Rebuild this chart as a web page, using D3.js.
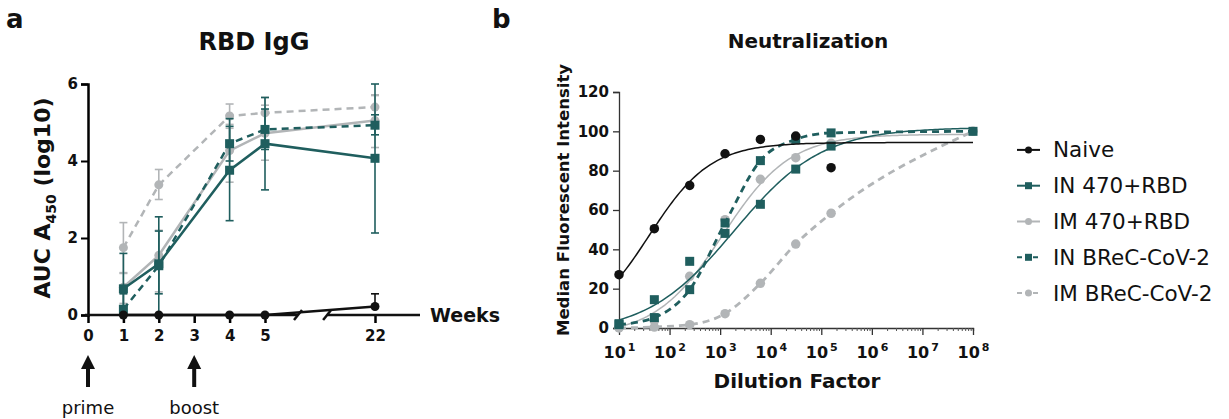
<!DOCTYPE html>
<html>
<head>
<meta charset="utf-8">
<title>RBD IgG / Neutralization</title>
<script src="https://cdn.jsdelivr.net/npm/d3@7"></script>
<style>
  body { margin: 0; background: #fff; }
  text { font-family: "DejaVu Sans", "Liberation Sans", sans-serif; fill: #111; }
</style>
</head>
<body>
<script>
// ---- data: panel a (RBD IgG, AUC log10) ----
var weeks = [1, 2, 4, 5, 22];
var weekTicks = [0, 1, 2, 3, 4, 5, 22];
var naiveIgG = [0, 0, 0, 0, 0.22],        naiveLo = [0, 0, 0, 0, 0.22],       naiveHi = [0, 0, 0, 0, 0.55];
var in470IgG = [0.68, 1.33, 3.76, 4.45, 4.07], in470Lo = [0, 0, 2.45, 3.25, 2.13], in470Hi = [1.6, 2.55, 5.1, 5.65, 6.0];
var im470IgG = [0.72, 1.55, 4.27, 4.72, 5.05], im470Lo = [0.3, 0.6, 3.45, 4.02, 4.35], im470Hi = [1.1, 2.2, 4.95, 5.45, 5.72];
var inBrecIgG = [0.15, 1.28, 4.45, 4.82, 4.93], inBrecLo = [0, 0.55, 4.0, 4.3, 4.68], inBrecHi = [0.55, 2.18, 4.9, 5.35, 5.2];
var imBrecIgG = [1.75, 3.38, 5.17, 5.25, 5.4], imBrecLo = [1.08, 3.0, 4.85, 4.85, 5.05], imBrecHi = [2.4, 3.78, 5.48, 5.65, 5.7];
var igTicks = [0, 2, 4, 6];

// ---- data: panel b (neutralization, MFI) ----
var dilutions = [10, 50, 250, 1250, 6250, 31250, 156250];
var dilutionsExt = [10, 50, 250, 1250, 6250, 31250, 156250, 1e8];
var naiveMFI = [27.1, 50.5, 72.5, 88.6, 95.9, 97.6, 81.5];
var in470MFI = [2.2, 14.4, 33.9, 48.1, 62.9, 80.8, 92.5];
var im470MFI = [0.5, 3.6, 26.3, 55.1, 75.6, 86.6, 93.9];
var inBrecMFI = [1.7, 5.3, 19.5, 53.4, 85.1, 95.9, 99.2, 100];
var imBrecMFI = [0, 0.5, 1.7, 7.3, 22.7, 42.7, 58.3, 100];
// 4PL fit parameters: bottom, top, logEC50, hill
var naiveFit = [0, 94.3, 1.6, 0.72];
var in470Fit = [-3, 102, 3.28, 0.5];
var im470Fit = [-4, 98.5, 3.05, 0.65];
var mfiTicks = [0, 20, 40, 60, 80, 100, 120];
var decades = [1, 2, 3, 4, 5, 6, 7, 8];

var groups = ["Naive", "IN 470+RBD", "IM 470+RBD", "IN BReC-CoV-2", "IM BReC-CoV-2"];

var teal = "#1f5e5e", grey = "#b2b5b7", black = "#111";

var svg = d3.select("body").append("svg")
  .attr("width", 1229).attr("height", 419);

function marker(g, shape, color, cx, cy, size) {
  if (shape == "square") {
    g.append("rect").attr("x", cx - size / 2).attr("y", cy - size / 2)
      .attr("width", size).attr("height", size).attr("fill", color);
  } else {
    g.append("circle").attr("cx", cx).attr("cy", cy).attr("r", size / 2).attr("fill", color);
  }
}

// ================= panel a =================
var xa = d3.scaleLinear().domain([0, 5, 22, 29]).range([88, 265, 375, 420]);
var ya = d3.scaleLinear().domain([0, 6]).range([315, 84]);

var ga = svg.append("g");
ga.append("text").attr("x", 6).attr("y", 28).attr("font-size", 26).attr("font-weight", "bold").text("a");
ga.append("text").attr("x", 254).attr("y", 50).attr("text-anchor", "middle")
  .attr("font-size", 24).attr("font-weight", "bold").text("RBD IgG");

// y axis
var yAxA = ga.append("g").attr("transform", "translate(88,0)")
  .call(d3.axisLeft(ya).tickValues(igTicks).tickFormat(d3.format("d")).tickSize(7).tickPadding(3));
yAxA.select(".domain").attr("stroke-width", 2.5);
yAxA.selectAll(".tick line").attr("stroke-width", 2);
yAxA.selectAll(".tick text").attr("font-size", 15).attr("font-weight", "bold")
  .attr("font-family", "DejaVu Sans").attr("fill", "#111");

// x axis with a break between 5 and 22
var breakL = 10.1, breakR = 14.6;
var xAxA = ga.append("g").attr("transform", "translate(0,315)")
  .call(d3.axisBottom(xa).tickValues(weekTicks).tickSize(8).tickPadding(7).tickSizeOuter(0));
xAxA.select(".domain").remove();
xAxA.selectAll(".tick line").attr("stroke-width", 2.5);
xAxA.selectAll(".tick text").attr("font-size", 15).attr("font-weight", "bold")
  .attr("font-family", "DejaVu Sans").attr("fill", "#111");
ga.append("line").attr("x1", xa(0) - 3).attr("x2", xa(breakL)).attr("y1", 315).attr("y2", 315)
  .attr("stroke", black).attr("stroke-width", 2.5);
ga.append("line").attr("x1", xa(breakR)).attr("x2", xa(29)).attr("y1", 315).attr("y2", 315)
  .attr("stroke", black).attr("stroke-width", 2.5);
[breakL, breakR].forEach(function (b) {
  ga.append("line").attr("x1", xa(b) - 4).attr("x2", xa(b) + 4)
    .attr("y1", 320).attr("y2", 310).attr("stroke", black).attr("stroke-width", 2.5);
});
ga.append("text").attr("x", 430).attr("y", 322).attr("font-size", 19).attr("font-weight", "bold").text("Weeks");

// y label
ga.append("text").attr("transform", "translate(50,198) rotate(-90)").attr("text-anchor", "middle")
  .attr("font-size", 22).attr("font-weight", "bold")
  .call(function (t) {
    t.append("tspan").text("AUC A");
    t.append("tspan").attr("font-size", 14).attr("dy", 6).text("450");
    t.append("tspan").attr("dy", -6).text(" (log10)");
  });

// arrows + labels
[[0, "prime"], [3, "boost"]].forEach(function (a) {
  var x = xa(a[0]);
  ga.append("line").attr("x1", x).attr("x2", x).attr("y1", 387).attr("y2", 366)
    .attr("stroke", black).attr("stroke-width", 4);
  ga.append("path").attr("d", "M" + (x - 7) + ",369L" + x + ",355L" + (x + 7) + ",369Z").attr("fill", black);
  ga.append("text").attr("x", x).attr("y", 414).attr("text-anchor", "middle").attr("font-size", 18).text(a[1]);
});

var seriesA = [
  { v: imBrecIgG, lo: imBrecLo, hi: imBrecHi, color: grey, dash: "7,5", shape: "circle" },
  { v: im470IgG, lo: im470Lo, hi: im470Hi, color: grey, dash: null, shape: "circle" },
  { v: inBrecIgG, lo: inBrecLo, hi: inBrecHi, color: teal, dash: "7,5", shape: "square" },
  { v: in470IgG, lo: in470Lo, hi: in470Hi, color: teal, dash: null, shape: "square" },
  { v: naiveIgG, lo: naiveLo, hi: naiveHi, color: black, dash: null, shape: "circle" }
];
var lineA = d3.line().x(function (d) { return xa(d[0]); }).y(function (d) { return ya(d[1]); });

seriesA.forEach(function (s) {
  var g = ga.append("g");
  weeks.forEach(function (w, i) {
    if (s.hi[i] > s.lo[i]) {
      g.append("line").attr("x1", xa(w)).attr("x2", xa(w)).attr("y1", ya(s.lo[i])).attr("y2", ya(s.hi[i]))
        .attr("stroke", s.color).attr("stroke-width", 1.6);
      [s.lo[i], s.hi[i]].forEach(function (e) {
        if (e > 0) g.append("line").attr("x1", xa(w) - 4).attr("x2", xa(w) + 4).attr("y1", ya(e)).attr("y2", ya(e))
          .attr("stroke", s.color).attr("stroke-width", 1.6);
      });
    }
  });
  var pts = weeks.map(function (w, i) { return [w, s.v[i]]; });
  g.append("path").attr("d", lineA(pts)).attr("fill", "none").attr("stroke", s.color)
    .attr("stroke-width", 2.5).attr("stroke-dasharray", s.dash);
  pts.forEach(function (p) { marker(g, s.shape, s.color, xa(p[0]), ya(p[1]), 9); });
});

// ================= panel b =================
var xb = d3.scaleLog().domain([10, 1e8]).range([619, 973]);
var yb = d3.scaleLinear().domain([0, 120]).range([328, 92]);

var gb = svg.append("g");
gb.append("text").attr("x", 492).attr("y", 28).attr("font-size", 26).attr("font-weight", "bold").text("b");
gb.append("text").attr("x", 808).attr("y", 48).attr("text-anchor", "middle")
  .attr("font-size", 20).attr("font-weight", "bold").text("Neutralization");

var yAxB = gb.append("g").attr("transform", "translate(619,0)")
  .call(d3.axisLeft(yb).tickValues(mfiTicks).tickSize(6).tickPadding(4));
yAxB.select(".domain").attr("stroke", "#333").attr("stroke-width", 1.3);
yAxB.selectAll(".tick line").attr("stroke", "#333").attr("stroke-width", 1.3);
yAxB.selectAll(".tick text").attr("font-size", 15).attr("font-weight", "bold")
  .attr("font-family", "DejaVu Sans").attr("fill", "#111");

// minor ticks (2..9 per decade)
var minors = [];
decades.slice(0, -1).forEach(function (d) {
  for (var k = 2; k <= 9; k++) minors.push(k * Math.pow(10, d));
});
var xAxB = gb.append("g").attr("transform", "translate(0,328)")
  .call(d3.axisBottom(xb).tickValues(minors).tickSize(3).tickFormat(""));
xAxB.select(".domain").attr("stroke", "#333").attr("stroke-width", 1.3);
xAxB.selectAll(".tick line").attr("stroke", "#555").attr("stroke-width", 1);
var xMajB = gb.append("g").attr("transform", "translate(0,328)")
  .call(d3.axisBottom(xb).tickValues(decades.map(function (d) { return Math.pow(10, d); }))
    .tickSize(7).tickPadding(6).tickFormat(""));
xMajB.select(".domain").remove();
xMajB.selectAll(".tick line").attr("stroke", "#333").attr("stroke-width", 1.3);
xMajB.selectAll(".tick").each(function (d) {
  var t = d3.select(this).append("text").attr("y", 30).attr("text-anchor", "middle")
    .attr("font-size", 16).attr("font-weight", "bold").attr("font-family", "DejaVu Sans").attr("fill", "#111");
  t.append("tspan").text("10");
  t.append("tspan").attr("font-size", 11).attr("dy", -7).attr("dx", 2).text(Math.round(Math.log10(d)));
});

gb.append("text").attr("x", 797).attr("y", 388).attr("text-anchor", "middle")
  .attr("font-size", 20).attr("font-weight", "bold").text("Dilution Factor");
gb.append("text").attr("transform", "translate(569,200) rotate(-90)").attr("text-anchor", "middle")
  .attr("font-size", 16.5).attr("font-weight", "bold").text("Median Fluorescent Intensity");

function fourPL(p) {
  return function (lx) { return p[0] + (p[1] - p[0]) / (1 + Math.pow(10, (p[2] - lx) * p[3])); };
}
var fitLine = d3.line().x(function (d) { return xb(Math.pow(10, d[0])); }).y(function (d) { return yb(d[1]); });
var smooth = d3.line().curve(d3.curveMonotoneX)
  .x(function (d) { return xb(d[0]); }).y(function (d) { return yb(d[1]); });

var seriesB = [
  { x: dilutionsExt, v: imBrecMFI, color: grey, dash: "7,5", shape: "circle" },
  { x: dilutions, v: im470MFI, fit: im470Fit, color: grey, shape: "circle" },
  { x: dilutions, v: in470MFI, fit: in470Fit, color: teal, shape: "square" },
  { x: dilutionsExt, v: inBrecMFI, color: teal, dash: "7,5", shape: "square" },
  { x: dilutions, v: naiveMFI, fit: naiveFit, color: black, shape: "circle" }
];
var lxs = d3.range(1, 8.001, 0.05);
seriesB.forEach(function (s) {
  var g = gb.append("g");
  if (s.fit) {
    var f = fourPL(s.fit);
    g.append("path").attr("d", fitLine(lxs.map(function (l) { return [l, f(l)]; })))
      .attr("fill", "none").attr("stroke", s.color).attr("stroke-width", 1.5);
  } else {
    g.append("path").attr("d", smooth(s.x.map(function (d, i) { return [d, s.v[i]]; })))
      .attr("fill", "none").attr("stroke", s.color).attr("stroke-width", 2.8).attr("stroke-dasharray", s.dash);
  }
  s.x.forEach(function (d, i) { marker(g, s.shape, s.color, xb(d), yb(s.v[i]), s.shape == "square" ? 9 : 9.5); });
});

// legend
var legY = d3.scaleBand().domain(groups).range([132, 311]);
var legStyle = [
  { color: black, shape: "circle", dash: null },
  { color: teal, shape: "square", dash: null },
  { color: grey, shape: "circle", dash: null },
  { color: teal, shape: "square", dash: "5,3" },
  { color: grey, shape: "circle", dash: "5,3" }
];
groups.forEach(function (name, i) {
  var y = legY(name) + legY.bandwidth() / 2, st = legStyle[i];
  var g = svg.append("g");
  g.append("line").attr("x1", 1017).attr("x2", 1040).attr("y1", y).attr("y2", y)
    .attr("stroke", st.color).attr("stroke-width", 2).attr("stroke-dasharray", st.dash);
  marker(g, st.shape, st.color, 1028.5, y, 7);
  g.append("text").attr("x", 1053).attr("y", y + 7.5).attr("font-size", 21.5).attr("fill", "#222").text(name);
});
</script>
</body>
</html>
